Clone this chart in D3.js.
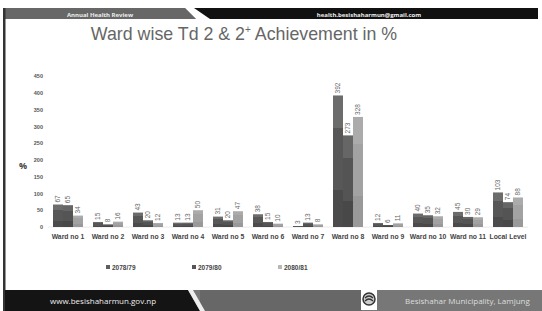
<!DOCTYPE html>
<html>
<head>
<meta charset="utf-8">
<style>
    body { margin: 0; background: #fff; }
    svg { display: block; font-family: 'Open Sans', 'Liberation Sans', Arial, sans-serif; }
</style>
</head>
<body>
<svg width="542" height="311"></svg>
<script src="https://d3js.org/d3.v7.min.js"></script>
<script>
    // chart data
    let wards = ["Ward no 1", "Ward no 2", "Ward no 3", "Ward no 4", "Ward no 5", "Ward no 6",
        "Ward no 7", "Ward no 8", "Ward no 9", "Ward no 10", "Ward no 11", "Local Level"]
    let years = ["2078/79", "2079/80", "2080/81"]
    let y7879 = [67, 15, 43, 13, 31, 38, 3, 392, 12, 40, 45, 103]
    let y7980 = [65, 8, 20, 13, 20, 15, 13, 273, 6, 35, 30, 74]
    let y8081 = [34, 16, 12, 50, 47, 10, 8, 328, 11, 32, 29, 88]
    let yTicks = [0, 50, 100, 150, 200, 250, 300, 350, 400, 450]

    let series = [y7879, y7980, y8081]
    let colors = [
        ["#6c6c6c", "#575757", "#4b4b4b"],
        ["#666666", "#545454", "#484848"],
        ["#ababab", "#a2a2a2", "#999999"]
    ]
    let legendColors = ["#5e5e5e", "#555555", "#b8b8b8"]

    let svg = d3.select("svg")
    let width = 542, height = 311

    // gradients for the bars
    let defs = svg.append("defs")
    colors.forEach((c, i) => {
        let g = defs.append("linearGradient")
            .attr("id", "grad" + i)
            .attr("x1", 0).attr("y1", 0).attr("x2", 0).attr("y2", 1)
        g.append("stop").attr("offset", 0).attr("stop-color", c[0])
        g.append("stop").attr("offset", 0.25).attr("stop-color", c[0])
        g.append("stop").attr("offset", 0.25).attr("stop-color", c[1])
        g.append("stop").attr("offset", 0.72).attr("stop-color", c[1])
        g.append("stop").attr("offset", 0.72).attr("stop-color", c[2])
        g.append("stop").attr("offset", 1).attr("stop-color", c[2])
    })

    // header band
    svg.append("rect").attr("x", 5).attr("y", 8).attr("width", 533).attr("height", 11).attr("fill", "#111")
    svg.append("path").attr("d", "M5,8 L185,8 L196,19 L5,19 Z").attr("fill", "#676767")
    svg.append("path").attr("d", "M185,8 L194,8 L210,19 L196,19 Z").attr("fill", "#fff")
    svg.append("text").attr("x", 100).attr("y", 16.5).attr("text-anchor", "middle")
        .attr("font-size", 6).attr("font-weight", "bold").attr("fill", "#eee").text("Annual Health Review")
    svg.append("text").attr("x", 369).attr("y", 16.5).attr("text-anchor", "middle")
        .attr("font-size", 6).attr("font-weight", "bold").attr("fill", "#eee").text("health.besishaharmun@gmail.com")

    // left border
    svg.append("rect").attr("x", 3).attr("y", 8).attr("width", 2.5).attr("height", 303).attr("fill", "#333")

    // title
    let title = svg.append("text").attr("x", 244).attr("y", 40).attr("text-anchor", "middle")
        .attr("font-size", 17.8).attr("fill", "#666").attr("font-family", "'Liberation Sans', Arial, sans-serif")
    title.append("tspan").text("Ward wise Td 2 & 2")
    title.append("tspan").attr("font-size", 10).attr("dy", -7).text("+")
    title.append("tspan").attr("dy", 7).text(" Achievement in %")

    // scales
    let x = d3.scaleBand().domain(wards).range([48, 528]).paddingInner(0.25).paddingOuter(0.125)
    let xs = d3.scaleBand().domain([0, 1, 2]).range([0, x.bandwidth()])
    let y = d3.scaleLinear().domain([0, 450]).range([227, 76])

    // y axis
    let yAxis = svg.append("g").attr("transform", "translate(43,0)")
        .call(d3.axisLeft(y).tickValues(yTicks).tickSize(0).tickPadding(0))
    yAxis.select(".domain").remove()
    yAxis.selectAll("text").attr("font-size", 5.5).attr("font-weight", "bold").attr("fill", "#555")
        .attr("font-family", "'Liberation Sans', Arial, sans-serif")

    svg.append("text").attr("x", 23).attr("y", 169).attr("text-anchor", "middle")
        .attr("font-size", 9).attr("font-weight", "bold").attr("fill", "#444").text("%")

    // baseline
    svg.append("line").attr("x1", 48).attr("x2", 528).attr("y1", y(0)).attr("y2", y(0))
        .attr("stroke", "#e4e4e4").attr("stroke-width", 0.8)

    // bars
    series.forEach((vals, si) => {
        let g = svg.append("g")
        g.selectAll("rect")
            .data(vals)
            .join("rect")
            .attr("x", (d, i) => x(wards[i]) + xs(si))
            .attr("y", d => y(d))
            .attr("width", xs.bandwidth())
            .attr("height", d => y(0) - y(d))
            .attr("fill", "url(#grad" + si + ")")

        g.selectAll("text")
            .data(vals)
            .join("text")
            .attr("transform", (d, i) => "translate(" + (x(wards[i]) + xs(si) + xs.bandwidth() / 2 + 2) + "," + (y(d) - 2) + ") rotate(-90)")
            .attr("font-size", 6.5)
            .attr("fill", "#666")
            .attr("font-family", "'Liberation Sans', Arial, sans-serif")
            .text(d => d)
    })

    // x axis labels
    let xAxis = svg.append("g").attr("transform", "translate(0,234)")
        .call(d3.axisBottom(x).tickSize(0).tickPadding(0))
    xAxis.select(".domain").remove()
    xAxis.selectAll("text").attr("font-size", 6.8).attr("font-weight", "bold").attr("fill", "#444")
        .attr("font-family", "'Liberation Sans', Arial, sans-serif")

    // legend
    let legendX = [106, 192, 278]
    years.forEach((yr, i) => {
        svg.append("rect").attr("x", legendX[i]).attr("y", 265).attr("width", 4).attr("height", 4)
            .attr("fill", legendColors[i])
        svg.append("text").attr("x", legendX[i] + 6).attr("y", 269.5)
            .attr("font-size", 6.5).attr("font-weight", "bold").attr("fill", "#444")
            .attr("font-family", "'Liberation Sans', Arial, sans-serif").text(yr)
    })

    // footer band
    svg.append("rect").attr("x", 5).attr("y", 290).attr("width", 537).attr("height", 21).attr("fill", "#777")
    svg.append("rect").attr("x", 200).attr("y", 290).attr("width", 162).attr("height", 21).attr("fill", "#676767")
    svg.append("path").attr("d", "M5,290 L188,290 L200,311 L5,311 Z").attr("fill", "#141414")
    svg.append("path").attr("d", "M188,290 L193,290 L205,311 L200,311 Z").attr("fill", "#eee")
    svg.append("text").attr("x", 50).attr("y", 304).attr("font-size", 8).attr("fill", "#eee").text("www.besishaharmun.gov.np")
    svg.append("text").attr("x", 405).attr("y", 304).attr("font-size", 8).attr("fill", "#ddd").text("Besishahar Municipality, Lamjung")

    // logo
    let logo = svg.append("g").attr("transform", "translate(369,299)")
    logo.append("rect").attr("x", -8).attr("y", -9).attr("width", 16).attr("height", 20).attr("fill", "#fff")
    logo.append("circle").attr("r", 6).attr("fill", "#ccc").attr("stroke", "#333").attr("stroke-width", 1.5)
    logo.append("path").attr("d", "M-4,-1 Q0,-5 4,-1 M-4,2 Q0,-2 4,2").attr("fill", "none").attr("stroke", "#333").attr("stroke-width", 1.2)
</script>
</body>
</html>
